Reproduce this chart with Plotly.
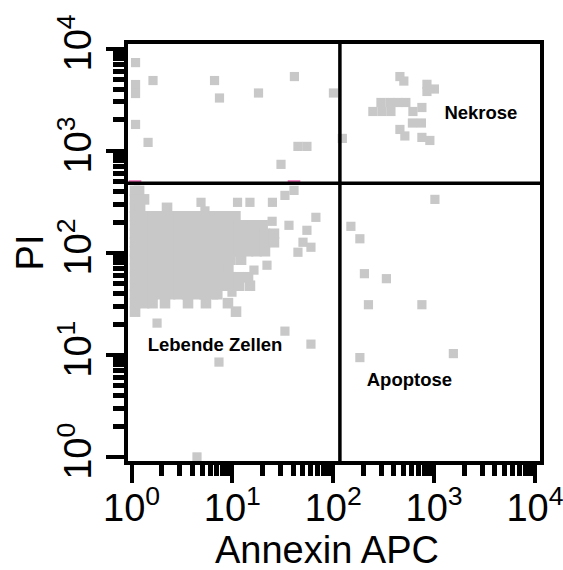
import plotly.graph_objects as go

# ---------------- data (log10 units of fluorescence) ----------------
# Lebende Zellen: dense population, one list of Annexin values per PI level
live_pi_levels = [2.606, 2.523, 2.440, 2.357, 2.269, 2.186, 2.103, 2.015,
                  1.932, 1.848, 1.760, 1.677, 1.594, 1.506, 1.423]
live_annexin_rows = [
    [0.035, 0.075],
    [0.035, 0.124],
    [0.035, 0.085, 0.352],
    [0.035, 0.124, 0.208, 0.292, 0.382, 0.466, 0.550, 0.639, 0.723, 0.808, 0.897, 0.981, 1.030],
    [0.035, 0.124, 0.208, 0.292, 0.382, 0.466, 0.550, 0.639, 0.723, 0.808, 0.897, 0.981, 1.065, 1.155, 1.239, 1.300],
    [0.035, 0.124, 0.208, 0.292, 0.382, 0.466, 0.550, 0.639, 0.723, 0.808, 0.897, 0.981, 1.065, 1.155, 1.239, 1.323, 1.412],
    [0.035, 0.124, 0.208, 0.292, 0.382, 0.466, 0.550, 0.639, 0.723, 0.808, 0.897, 0.981, 1.065, 1.155, 1.239, 1.323, 1.412],
    [0.035, 0.124, 0.208, 0.292, 0.382, 0.466, 0.550, 0.639, 0.723, 0.808, 0.897, 0.981, 1.065, 1.155, 1.239, 1.323],
    [0.035, 0.124, 0.208, 0.292, 0.382, 0.466, 0.550, 0.639, 0.723, 0.808, 0.897, 0.981, 1.086],
    [0.035, 0.124, 0.208, 0.292, 0.382, 0.466, 0.550, 0.639, 0.723, 0.808, 0.897, 0.960],
    [0.035, 0.124, 0.208, 0.292, 0.382, 0.466, 0.550, 0.639, 0.723, 0.808, 0.897, 0.981, 1.065, 1.155],
    [0.035, 0.124, 0.208, 0.292, 0.382, 0.466, 0.550, 0.639, 0.723, 0.808, 0.897, 0.981, 1.065, 1.174],
    [0.035, 0.124, 0.208, 0.292, 0.382, 0.466, 0.550, 0.639, 0.723, 0.808, 0.850],
    [0.035, 0.124, 0.208, 0.332, 0.560, 0.738, 0.956],
    [0.035, 1.036],
]
# scattered events around the live population
live_extra_annexin = [0.253, 1.521, 1.779, 0.867, 0.649, 1.611, 1.521, 0.689, 1.051, 1.174, 1.397,
                      0.728, 1.394, 1.828, 1.561, 1.739, 1.700, 1.779, 1.650, 1.214, 1.343, 0.996]
live_extra_pi = [1.311, 1.232, 1.105, 0.929, 0.000, 2.611, 2.562, 2.494, 2.494, 2.494, 2.494,
                 2.410, 2.308, 2.347, 2.269, 2.220, 2.103, 2.054, 2.005, 1.830, 1.878, 1.614]

# PI+ / Annexin- (upper left)
ul_annexin = [0.040, 0.213, 0.040, 0.040, 0.823, 0.872, 0.040, 0.164, 1.615, 1.259, 2.002, 1.650, 1.739, 1.482]
ul_pi = [3.863, 3.687, 3.648, 3.560, 3.687, 3.516, 3.257, 3.081, 3.726, 3.565, 3.565, 3.042, 3.042, 2.866]

# Nekrose (upper right)
nek_annexin = [2.090, 2.661, 2.700, 2.929, 2.929, 3.003, 2.473, 2.562, 2.641, 2.720, 2.393, 2.483,
               2.572, 2.790, 2.879, 2.785, 2.874, 2.661, 2.710, 2.879, 2.958]
nek_pi = [3.120, 3.726, 3.682, 3.650, 3.580, 3.604, 3.472, 3.472, 3.472, 3.472, 3.384, 3.384,
          3.384, 3.384, 3.423, 3.271, 3.271, 3.208, 3.144, 3.130, 3.100]

# Apoptose (lower right)
apo_annexin = [3.008, 2.175, 2.264, 2.309, 2.527, 2.349, 2.879, 2.264, 3.191]
apo_pi = [2.523, 2.259, 2.137, 1.795, 1.746, 1.491, 1.491, 0.973, 1.012]

# gated events highlighted on the threshold
gated_annexin = [0.035, 1.611]

# quadrant gate thresholds (log10)
gate_annexin = 2.066
gate_pi = 2.680

quadrant_labels = ["Nekrose", "Lebende Zellen", "Apoptose"]
label_annexin = [3.464, 0.828, 2.755]
label_pi = [3.355, 1.086, 0.743]

decades = [0, 1, 2, 3, 4]
minor_multipliers = [2, 3, 4, 5, 6, 7, 8, 9]

# ---------------- build ----------------
blob_x, blob_y = [], []
for lvl, row in zip(live_pi_levels, live_annexin_rows):
    for a in row:
        blob_x.append(a)
        blob_y.append(lvl)
pts_x = live_extra_annexin + ul_annexin + nek_annexin + apo_annexin
pts_y = live_extra_pi + ul_pi + nek_pi + apo_pi

GRAY = "#c8c8c8"
FONT = "Liberation Sans, Arial, Helvetica, sans-serif"

fig = go.Figure()
fig.add_trace(go.Scatter(
    x=[10 ** v for v in blob_x], y=[10 ** v for v in blob_y], mode="markers",
    marker=dict(symbol="square", size=10.6, color=GRAY, line=dict(width=0)),
    hoverinfo="skip"))
fig.add_trace(go.Scatter(
    x=[10 ** v for v in pts_x], y=[10 ** v for v in pts_y], mode="markers",
    marker=dict(symbol="square", size=9.2, color=GRAY, line=dict(width=0)),
    hoverinfo="skip"))

fig.add_trace(go.Scatter(
    x=[10 ** v for v in gated_annexin], y=[10 ** (gate_pi + 0.022)] * len(gated_annexin),
    mode="markers", marker=dict(symbol="line-ew", size=9, line=dict(width=1.2, color="#e0208c")),
    hoverinfo="skip"))

xr = [-0.035, 4.05]
yr = [-0.04, 4.045]
fig.add_trace(go.Scatter(x=[10 ** gate_annexin, 10 ** gate_annexin], y=[10 ** yr[0], 10 ** yr[1]],
                         mode="lines", line=dict(color="black", width=3.5), hoverinfo="skip"))
fig.add_trace(go.Scatter(x=[10 ** xr[0], 10 ** xr[1]], y=[10 ** gate_pi, 10 ** gate_pi],
                         mode="lines", line=dict(color="black", width=3.5), hoverinfo="skip"))

fig.add_trace(go.Scatter(
    x=[10 ** v for v in label_annexin], y=[10 ** v for v in label_pi], mode="text",
    text=[f"<b>{t}</b>" for t in quadrant_labels],
    textfont=dict(family=FONT, size=18.5, color="black"), hoverinfo="skip"))

# invisible carrier trace for the x tick-label axis
fig.add_trace(go.Scatter(x=[10], y=[10], xaxis="x2", mode="markers",
                         marker=dict(opacity=0), hoverinfo="skip"))

major_vals = [10 ** d for d in decades]
major_text = [f"10<sup>{d}</sup>" for d in decades]
minor_vals = [m * 10 ** d for d in decades[:-1] for m in minor_multipliers]

tickfont = dict(family=FONT, size=38, color="black")

fig.update_layout(
    width=563, height=570,
    margin=dict(l=128, r=23, t=44, b=109, autoexpand=False),
    plot_bgcolor="white", paper_bgcolor="white",
    showlegend=False,
    xaxis=dict(
        type="log", range=xr, showgrid=False, zeroline=False, automargin=False,
        showline=True, mirror=True, linecolor="black", linewidth=3.5,
        ticks="outside", ticklen=18, tickwidth=3.5, tickcolor="black",
        tickvals=major_vals, showticklabels=False,
        minor=dict(ticks="outside", ticklen=11, tickwidth=4.6, tickcolor="black",
                   tickvals=minor_vals, showgrid=False),
    ),
    xaxis2=dict(
        type="log", range=xr, overlaying="x", anchor="y", side="bottom",
        showgrid=False, zeroline=False, showline=False, automargin=False,
        ticks="outside", ticklen=13, tickwidth=1, tickcolor="rgba(0,0,0,0)",
        tickvals=major_vals, ticktext=major_text, tickfont=tickfont,
        ticklabeloverflow="allow",
    ),
    yaxis=dict(
        type="log", range=yr, showgrid=False, zeroline=False, automargin=False,
        showline=True, mirror=True, linecolor="black", linewidth=3.5,
        ticks="outside", ticklen=18, tickwidth=3.5, tickcolor="black",
        tickvals=major_vals, ticktext=major_text, tickfont=tickfont,
        tickangle=-90, ticklabeloverflow="allow",
        minor=dict(ticks="outside", ticklen=11, tickwidth=4.6, tickcolor="black",
                   tickvals=minor_vals, showgrid=False),
    ),
    annotations=[
        dict(text="Annexin APC", xref="paper", yref="paper", x=0.483, y=-0.213,
             xanchor="center", yanchor="middle", showarrow=False,
             font=dict(family=FONT, size=38, color="black")),
        dict(text="PI", xref="paper", yref="paper", x=-0.238, y=0.50,
             xanchor="center", yanchor="middle", showarrow=False, textangle=-90,
             font=dict(family=FONT, size=38, color="black")),
    ],
)

fig.write_html("out.html")
